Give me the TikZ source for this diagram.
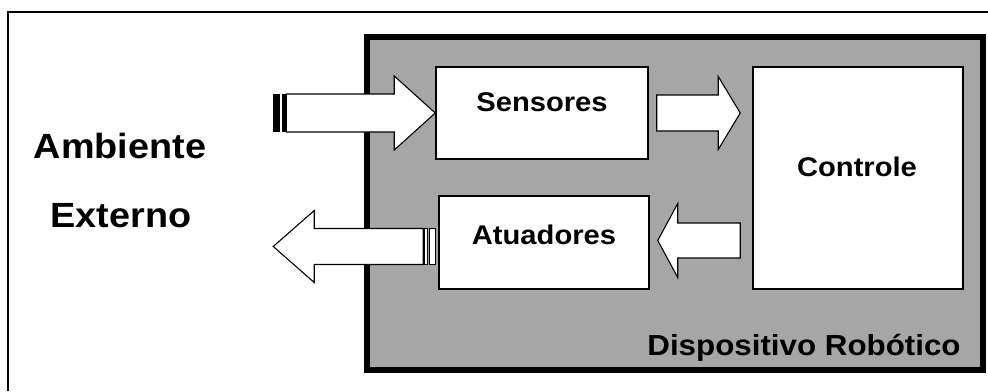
\documentclass[tikz,border=0pt]{standalone}
\usepackage{fontspec}
\setmainfont{Liberation Sans}[FakeStretch=1.08]
\usepackage{tikz}
\usetikzlibrary{calc,positioning}
\definecolor{devgray}{HTML}{A6A6A6}

% block arrow: from, to, shaft half width, head half width, head length
\newcommand{\blockarrow}[5]{%
  \coordinate (ba-a) at #1;
  \coordinate (ba-b) at #2;
  \coordinate (ba-n) at ($(ba-b)!#5!(ba-a)$);
  \draw[arrowbody] ($(ba-a)!#3!90:(ba-b)$) -- ($(ba-n)!#3!90:(ba-b)$)
    -- ($(ba-n)!#4!90:(ba-b)$) -- (ba-b) -- ($(ba-n)!#4!-90:(ba-b)$)
    -- ($(ba-n)!#3!-90:(ba-b)$) -- ($(ba-a)!#3!-90:(ba-b)$) -- cycle;
}

\tikzset{
  blk/.style={draw, line width=1.5pt, fill=white, inner sep=0pt},
  arrowbody/.style={draw, line width=1.1pt, fill=white, line join=miter},
  lbl/.style={font=\bfseries\fontsize{27}{30}\selectfont, anchor=base, inner sep=0pt},
  envlbl/.style={lbl, font=\bfseries\fontsize{35}{38}\selectfont},
}

\begin{document}
\begin{tikzpicture}[x=1pt,y=-1pt]
\useasboundingbox (0,0) rectangle (988,391);
\draw[line width=1.5pt] (8,391) -- (8,12) -- (988,12);
\node[envlbl] (amb) at (120,158) {Ambiente};
\node[envlbl] (ext) at (121,227) {Externo};

% the device
\node[draw, line width=6pt, fill=devgray, inner sep=0pt,
      minimum width=616pt, minimum height=333pt] (dev) at (675,203.5) {};
\node[lbl, font=\bfseries\fontsize{29}{32}\selectfont] (devT) at (804,355) {Dispositivo Robótico};

\node[blk, minimum width=212pt, minimum height=92pt] (sens) at (542,113) {};
\node[blk, minimum width=210pt, minimum height=93pt] (atu) at (544,242.5) {};
\node[blk, minimum width=210pt, minimum height=222pt] (ctrl) at (858,178) {};
\node[lbl] (sensT) at ($(sens.center)+(0,-2)$) {Sensores};
\node[lbl] (atuT) at ($(atu.center)+(0,1.5)$) {Atuadores};
\node[lbl] (ctrlT) at ($(ctrl.center)+(-1,-2)$) {Controle};

% input from the environment
\coordinate (inTail) at ($(sens.west)+(-149,0)$);
\fill ($(inTail)+(-13,-19)$) rectangle ($(inTail)+(-6,19)$);
\fill ($(inTail)+(-4,-19)$) rectangle ($(inTail)+(0,19)$);
\blockarrow{(inTail)}{(sens.west)}{19pt}{37pt}{41pt}

% inner flow
\blockarrow{($(sens.east)+(8,0)$)}{($(ctrl.west |- sens.east)+(-12,0)$)}{18pt}{36.5pt}{22pt}
\blockarrow{($(ctrl.west |- atu.east)+(-12,-2)$)}{($(atu.east)+(8,-2)$)}{17.5pt}{37pt}{20pt}

% output to the environment
\coordinate (outTip) at ($(atu.west)+(-165,4)$);
\blockarrow{($(atu.west)+(-15,4)$)}{(outTip)}{18pt}{36pt}{41pt}
\draw[line width=0.9pt, fill=white] ($(atu.west)+(-14,-14)$) rectangle ($(atu.west)+(-11,22)$);
\draw[line width=0.9pt, fill=white] ($(atu.west)+(-9,-14)$) rectangle ($(atu.west)+(-3,22)$);
\end{tikzpicture}
\end{document}
